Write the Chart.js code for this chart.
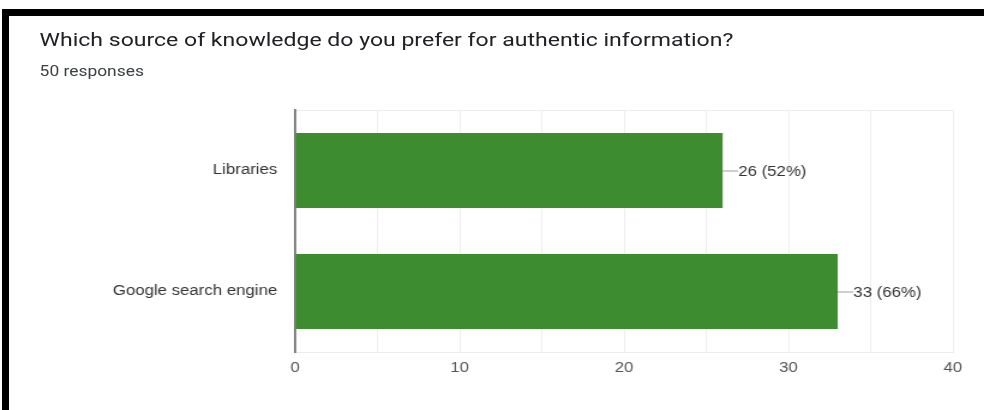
<!DOCTYPE html>
<html>
<head>
<meta charset="utf-8">
<script src="https://cdn.jsdelivr.net/npm/chart.js@4"></script>
<style>
  html, body { margin: 0; padding: 0; background: #fff; }
  body { width: 985px; height: 410px; position: relative; overflow: hidden; }
  .bar-top { position: absolute; left: 2px; top: 9px; width: 982px; height: 7px; background: #000; z-index: 2; }
  .bar-left { position: absolute; left: 2px; top: 9px; width: 7px; height: 401px; background: #000; z-index: 2; }
  /* the source screenshot is stretched sideways, so the whole card is too */
  #stage { position: absolute; left: 0; top: 0; width: 821px; height: 410px; transform: scaleX(1.2); transform-origin: 0 0; }
  .title { position: absolute; left: 33px; top: 28px; font: 19.2px Roboto, sans-serif; color: #202124; white-space: nowrap; }
  .sub { position: absolute; left: 33px; top: 63px; font: 14.5px Roboto, sans-serif; color: #3c4043; white-space: nowrap; }
  #wrap { position: absolute; left: 0; top: 0; width: 821px; height: 410px; }
</style>
</head>
<body>
<div class="bar-top"></div>
<div class="bar-left"></div>
<div id="stage">
  <div class="title">Which source of knowledge do you prefer for authentic information?</div>
  <div class="sub">50 responses</div>
  <div id="wrap"><canvas id="myChart"></canvas></div>
</div>
<script>
// data
var categories = ['Libraries', 'Google search engine'];
var counts = [26, 33];
var totalResponses = 50;
var xTicks = [0, 10, 20, 30, 40];

// value labels "26 (52%)" with a short leader line
var valueLabels = {
  id: 'valueLabels',
  afterDatasetsDraw(chart) {
    var c = chart.ctx;
    var meta = chart.getDatasetMeta(0);
    c.save();
    meta.data.forEach(function (bar, i) {
      var v = counts[i];
      var pct = Math.round(v / totalResponses * 100);
      c.strokeStyle = '#9e9e9e';
      c.lineWidth = 1;
      c.beginPath();
      c.moveTo(bar.x, bar.y + 0.5);
      c.lineTo(bar.x + 13, bar.y + 0.5);
      c.stroke();
      c.fillStyle = '#333';
      c.font = '14px "Liberation Sans", Arial, sans-serif';
      c.textAlign = 'left';
      c.textBaseline = 'middle';
      c.fillText(v + ' (' + pct + '%)', bar.x + 13, bar.y + 1.5);
    });
    c.restore();
  }
};

var ctx = document.getElementById('myChart').getContext('2d');
var myChart = new Chart(ctx, {
  type: 'bar',
  data: {
    labels: categories,
    datasets: [{
      data: counts,
      backgroundColor: '#3d8d30',
      borderWidth: 0,
      categoryPercentage: 1,
      barPercentage: 0.62
    }]
  },
  plugins: [valueLabels],
  options: {
    indexAxis: 'y',
    responsive: true,
    maintainAspectRatio: false,
    animation: false,
    layout: { padding: { left: 0, top: 110, right: 27, bottom: 28 } },
    plugins: { legend: { display: false }, tooltip: { enabled: false } },
    scales: {
      x: {
        min: xTicks[0],
        max: xTicks[xTicks.length - 1],
        afterFit: function (s) { s.height = 30; },
        ticks: {
          stepSize: 5,
          padding: 8,
          color: '#555',
          font: { family: '"Liberation Sans", Arial, sans-serif', size: 14 },
          maxRotation: 0,
          callback: function (v) { return xTicks.indexOf(v) >= 0 ? String(v) : ''; }
        },
        grid: { color: '#ececec', lineWidth: 0.9, drawTicks: false },
        border: { display: true, color: '#ececec', width: 1 }
      },
      y: {
        afterFit: function (s) { s.width = 246; },
        ticks: {
          padding: 15,
          color: '#333',
          font: { family: '"Liberation Sans", Arial, sans-serif', size: 14 }
        },
        grid: {
          offset: true,
          drawTicks: false,
          color: function (c) { return c.index === 1 ? 'rgba(0,0,0,0)' : '#ececec'; }
        },
        border: { display: true, color: '#777', width: 1.8 }
      }
    }
  }
});
</script>
</body>
</html>
